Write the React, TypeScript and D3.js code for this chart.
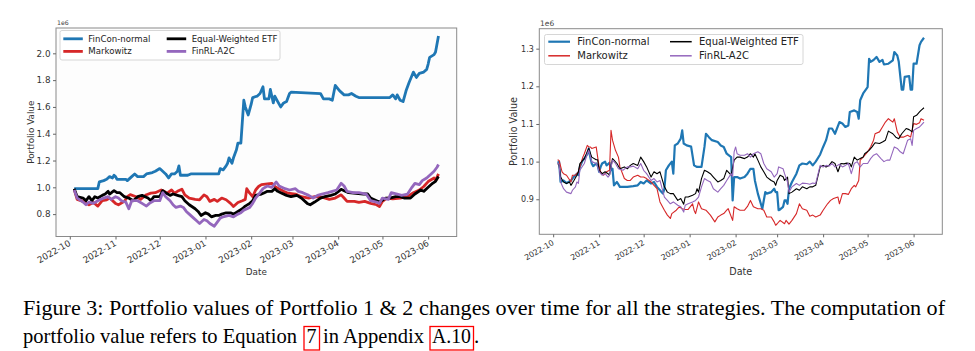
import React, { useRef, useEffect } from "react";
import * as d3 from "d3";

type Pt = [string, number];

// ---- Portfolio 1 (values in 1e6) ----
const p1FinCon: Pt[] = [
  ["10-04", 0.99], ["10-20", 0.99], ["10-21", 1.04], ["10-24", 1.05], ["10-26", 1.06], ["10-28", 1.08],
  ["10-30", 1.07], ["10-31", 1.09], ["11-01", 1.08], ["11-02", 1.06], ["11-04", 1.06], ["11-08", 1.06],
  ["11-09", 1.05], ["11-12", 1.08], ["11-14", 1.1], ["11-16", 1.08], ["11-20", 1.08], ["11-22", 1.1],
  ["11-26", 1.11], ["11-28", 1.12], ["12-01", 1.14], ["12-03", 1.12], ["12-05", 1.1], ["12-07", 1.07],
  ["12-09", 1.1], ["12-11", 1.1], ["12-13", 1.12], ["12-14", 1.16], ["12-15", 1.09], ["12-20", 1.09],
  ["12-22", 1.1], ["01-10", 1.1], ["01-11", 1.14], ["01-13", 1.13], ["01-15", 1.16], ["01-16", 1.18],
  ["01-17", 1.22], ["01-19", 1.18], ["01-20", 1.22], ["01-22", 1.28], ["01-23", 1.33], ["01-25", 1.33],
  ["01-27", 1.65], ["01-28", 1.6], ["01-30", 1.54], ["02-01", 1.62], ["02-02", 1.67], ["02-05", 1.68],
  ["02-07", 1.7], ["02-09", 1.75], ["02-10", 1.66], ["02-13", 1.66], ["02-14", 1.73], ["02-16", 1.63],
  ["02-17", 1.68], ["02-19", 1.64], ["02-21", 1.6], ["02-23", 1.63], ["02-25", 1.64], ["02-27", 1.7],
  ["02-28", 1.71], ["03-20", 1.7], ["03-22", 1.66], ["03-26", 1.66], ["03-28", 1.65], ["03-30", 1.76],
  ["04-02", 1.72], ["04-05", 1.69], ["04-08", 1.69], ["04-10", 1.7], ["04-13", 1.68], ["04-15", 1.67],
  ["05-06", 1.67], ["05-08", 1.69], ["05-10", 1.66], ["05-11", 1.69], ["05-13", 1.65], ["05-15", 1.64],
  ["05-17", 1.72], ["05-19", 1.78], ["05-22", 1.86], ["05-24", 1.82], ["05-26", 1.85], ["05-29", 1.86],
  ["05-31", 1.88], ["06-01", 1.92], ["06-02", 1.97], ["06-05", 1.99], ["06-06", 2.01], ["06-08", 2.13],
];

const p1Markowitz: Pt[] = [
  ["10-04", 0.985], ["10-06", 0.91], ["10-10", 0.895], ["10-14", 0.87], ["10-17", 0.887], ["10-20", 0.86],
  ["10-23", 0.9], ["10-26", 0.907], ["10-28", 0.92], ["11-01", 0.88], ["11-03", 0.87], ["11-07", 0.895],
  ["11-09", 0.93], ["11-11", 0.945], ["11-15", 0.93], ["11-18", 0.91], ["11-22", 0.945], ["11-25", 0.957],
  ["11-28", 0.96], ["12-02", 0.98], ["12-04", 0.97], ["12-06", 0.956], ["12-09", 0.98], ["12-11", 0.956],
  ["12-13", 0.97], ["12-16", 0.986], ["12-18", 0.944], ["12-21", 0.92], ["12-25", 0.91], ["12-28", 0.907],
  ["12-31", 0.944], ["01-02", 0.93], ["01-04", 0.895], ["01-07", 0.91], ["01-09", 0.895], ["01-12", 0.92],
  ["01-15", 0.907], ["01-18", 0.88], ["01-20", 0.857], ["01-23", 0.887], ["01-26", 0.9], ["01-28", 0.91],
  ["01-29", 0.99], ["01-31", 0.956], ["02-02", 0.93], ["02-04", 0.98], ["02-06", 1.006], ["02-08", 1.02],
  ["02-12", 1.026], ["02-15", 1.03], ["02-17", 1.006], ["02-19", 0.994], ["02-23", 0.97], ["02-26", 0.956],
  ["03-03", 0.95], ["03-07", 0.93], ["03-12", 0.92], ["03-16", 0.93], ["03-21", 0.927], ["03-26", 0.91],
  ["03-30", 0.92], ["04-03", 0.944], ["04-05", 0.92], ["04-07", 0.895], ["04-12", 0.895], ["04-15", 0.887],
  ["04-19", 0.895], ["04-23", 0.88], ["04-27", 0.87], ["04-29", 0.857], ["05-01", 0.895], ["05-04", 0.92],
  ["05-08", 0.914], ["05-13", 0.92], ["05-18", 0.93], ["05-22", 0.96], ["05-26", 0.98], ["05-29", 1.006],
  ["06-01", 1.043], ["06-05", 1.07], ["06-06", 1.05], ["06-08", 1.1],
];

const p1EqualETF: Pt[] = [
  ["10-04", 0.99], ["10-06", 0.93], ["10-10", 0.92], ["10-12", 0.9], ["10-14", 0.93], ["10-16", 0.9],
  ["10-18", 0.93], ["10-20", 0.92], ["10-23", 0.94], ["10-25", 0.95], ["10-27", 0.97], ["10-28", 0.95],
  ["10-31", 0.975], ["11-02", 0.96], ["11-04", 0.96], ["11-07", 0.93], ["11-10", 0.92], ["11-13", 0.9],
  ["11-16", 0.93], ["11-19", 0.94], ["11-23", 0.92], ["11-25", 0.9], ["11-27", 0.93], ["12-01", 0.93],
  ["12-03", 0.975], ["12-05", 0.96], ["12-08", 0.94], ["12-10", 0.95], ["12-13", 0.94], ["12-16", 0.93],
  ["12-18", 0.9], ["12-21", 0.87], ["12-25", 0.84], ["12-27", 0.82], ["12-29", 0.79], ["01-01", 0.81],
  ["01-03", 0.8], ["01-05", 0.78], ["01-08", 0.79], ["01-10", 0.79], ["01-12", 0.8], ["01-15", 0.81],
  ["01-18", 0.81], ["01-20", 0.8], ["01-23", 0.82], ["01-26", 0.84], ["01-28", 0.86], ["01-31", 0.88],
  ["02-02", 0.9], ["02-04", 0.94], ["02-08", 0.95], ["02-10", 0.96], ["02-12", 0.97], ["02-15", 0.97],
  ["02-17", 0.99], ["02-19", 0.97], ["02-21", 0.96], ["02-25", 0.94], ["02-28", 0.93], ["03-04", 0.94],
  ["03-07", 0.92], ["03-11", 0.88], ["03-13", 0.87], ["03-16", 0.89], ["03-20", 0.92], ["03-23", 0.93],
  ["03-27", 0.94], ["03-30", 0.95], ["04-03", 0.985], ["04-05", 0.975], ["04-08", 0.96], ["04-13", 0.955],
  ["04-18", 0.95], ["04-21", 0.95], ["04-23", 0.92], ["04-27", 0.9], ["04-29", 0.89], ["05-03", 0.92],
  ["05-06", 0.92], ["05-10", 0.93], ["05-13", 0.93], ["05-16", 0.92], ["05-20", 0.92], ["05-23", 0.95],
  ["05-27", 0.98], ["05-29", 0.97], ["06-01", 1.0], ["06-04", 1.03], ["06-06", 1.045], ["06-08", 1.08],
];

const p1A2C: Pt[] = [
  ["10-04", 0.98], ["10-06", 0.92], ["10-10", 0.89], ["10-12", 0.87], ["10-14", 0.89], ["10-17", 0.88],
  ["10-20", 0.9], ["10-24", 0.92], ["10-27", 0.93], ["10-29", 0.91], ["11-01", 0.93], ["11-03", 0.92],
  ["11-05", 0.9], ["11-08", 0.89], ["11-10", 0.84], ["11-12", 0.9], ["11-16", 0.9], ["11-19", 0.88],
  ["11-22", 0.86], ["11-24", 0.88], ["11-27", 0.9], ["12-01", 0.9], ["12-03", 0.96], ["12-05", 0.93],
  ["12-08", 0.9], ["12-10", 0.87], ["12-12", 0.85], ["12-15", 0.86], ["12-17", 0.85], ["12-19", 0.82],
  ["12-21", 0.8], ["12-24", 0.77], ["12-26", 0.75], ["12-28", 0.73], ["12-31", 0.76], ["01-02", 0.75],
  ["01-04", 0.73], ["01-07", 0.71], ["01-09", 0.74], ["01-11", 0.77], ["01-13", 0.78], ["01-17", 0.79],
  ["01-20", 0.78], ["01-23", 0.8], ["01-25", 0.81], ["01-27", 0.83], ["01-31", 0.85], ["02-02", 0.88],
  ["02-04", 0.92], ["02-07", 0.96], ["02-09", 0.99], ["02-12", 1.01], ["02-15", 1.0], ["02-18", 1.04],
  ["02-20", 1.01], ["02-24", 0.99], ["02-27", 0.98], ["03-03", 0.99], ["03-05", 0.97], ["03-08", 0.96],
  ["03-12", 0.94], ["03-15", 0.92], ["03-18", 0.94], ["03-21", 0.95], ["03-25", 0.96], ["03-28", 0.97],
  ["03-31", 0.98], ["04-03", 1.03], ["04-05", 1.01], ["04-07", 0.97], ["04-11", 0.96], ["04-15", 0.96],
  ["04-20", 0.95], ["04-23", 0.9], ["04-27", 0.89], ["04-29", 0.88], ["05-01", 0.92], ["05-05", 0.91],
  ["05-07", 0.96], ["05-11", 0.95], ["05-14", 0.94], ["05-18", 0.95], ["05-21", 1.0], ["05-23", 1.03],
  ["05-26", 1.02], ["05-28", 1.05], ["05-31", 1.07], ["06-03", 1.1], ["06-05", 1.12], ["06-07", 1.15],
  ["06-08", 1.17],
];

// ---- Portfolio 2 (values in 1e6) ----
const p2FinCon: Pt[] = [
  ["10-04", 0.997], ["10-05", 1.0], ["10-06", 0.946], ["10-08", 0.95], ["10-10", 0.943], ["10-13", 0.95],
  ["10-15", 0.96], ["10-17", 0.968], ["10-18", 0.964], ["10-19", 0.986], ["10-21", 1.004], ["10-22", 1.008],
  ["10-24", 1.02], ["10-25", 1.035], ["10-26", 1.012], ["10-27", 0.995], ["10-28", 0.988], ["10-30", 0.995],
  ["10-31", 0.99], ["11-01", 0.973], ["11-02", 0.986], ["11-03", 0.995], ["11-05", 1.0], ["11-06", 0.99],
  ["11-08", 0.997], ["11-09", 0.977], ["11-10", 0.981], ["11-11", 0.937], ["11-13", 0.946], ["11-15", 0.933],
  ["11-20", 0.933], ["11-24", 0.935], ["11-27", 0.937], ["11-29", 0.946], ["12-01", 0.942], ["12-03", 0.95],
  ["12-06", 0.942], ["12-08", 0.946], ["12-10", 0.933], ["12-12", 0.924], ["12-14", 0.915], ["12-15", 0.928],
  ["12-16", 0.977], ["12-18", 0.99], ["12-20", 1.0], ["12-21", 0.968], ["12-22", 1.043], ["12-24", 1.048],
  ["12-26", 1.061], ["12-27", 1.083], ["12-28", 1.048], ["12-30", 1.043], ["01-02", 1.04], ["01-04", 0.99],
  ["01-06", 0.986], ["01-09", 0.986], ["01-11", 1.039], ["01-12", 1.074], ["01-14", 1.065], ["01-16", 1.057],
  ["01-20", 1.052], ["01-22", 1.043], ["01-24", 1.039], ["01-26", 1.021], ["01-29", 1.012], ["01-30", 0.897],
  ["01-31", 0.959], ["02-02", 0.959], ["02-04", 0.955], ["02-07", 0.959], ["02-09", 0.968], ["02-11", 0.981],
  ["02-13", 0.981], ["02-14", 0.95], ["02-16", 0.915], ["02-18", 0.888], ["02-19", 0.875], ["02-21", 0.919],
  ["02-22", 0.915], ["02-25", 0.919], ["02-27", 0.928], ["02-28", 0.919], ["03-01", 0.919], ["03-02", 0.871],
  ["03-03", 0.873], ["03-05", 0.88], ["03-06", 0.897], ["03-07", 0.897], ["03-08", 0.888], ["03-09", 0.928],
  ["03-11", 0.946], ["03-14", 0.968], ["03-16", 0.99], ["03-18", 0.995], ["03-21", 0.993], ["03-23", 1.0],
  ["03-25", 0.99], ["03-27", 1.0], ["03-30", 1.019], ["04-01", 1.039], ["04-03", 1.057], ["04-05", 1.088],
  ["04-07", 1.088], ["04-09", 1.074], ["04-12", 1.105], ["04-14", 1.101], ["04-16", 1.092], ["04-18", 1.096],
  ["04-19", 1.132], ["04-22", 1.136], ["04-24", 1.132], ["04-25", 1.114], ["04-26", 1.163], ["04-28", 1.181],
  ["05-01", 1.198], ["05-02", 1.273], ["05-03", 1.265], ["05-05", 1.27], ["05-07", 1.278], ["05-09", 1.265],
  ["05-11", 1.27], ["05-12", 1.258], ["05-15", 1.26], ["05-18", 1.269], ["05-19", 1.291], ["05-21", 1.282],
  ["05-22", 1.265], ["05-24", 1.191], ["05-25", 1.191], ["05-26", 1.225], ["05-29", 1.227], ["05-30", 1.191],
  ["05-31", 1.191], ["06-01", 1.26], ["06-03", 1.26], ["06-05", 1.309], ["06-06", 1.318], ["06-08", 1.329],
];

const p2Markowitz: Pt[] = [
  ["10-04", 1.005], ["10-05", 1.003], ["10-07", 0.973], ["10-08", 0.968], ["10-10", 0.964], ["10-13", 0.946],
  ["10-14", 0.964], ["10-16", 0.964], ["10-18", 0.973], ["10-19", 0.986], ["10-21", 1.012], ["10-22", 1.021],
  ["10-24", 1.043], ["10-25", 1.039], ["10-26", 1.039], ["10-27", 1.035], ["10-30", 1.039], ["10-31", 1.012],
  ["11-01", 0.986], ["11-02", 0.973], ["11-04", 0.964], ["11-06", 0.973], ["11-08", 0.977], ["11-09", 1.083],
  ["11-10", 1.057], ["11-12", 1.03], ["11-14", 1.012], ["11-15", 0.986], ["11-18", 0.955], ["11-20", 0.95],
  ["11-22", 0.95], ["11-24", 0.959], ["11-27", 0.964], ["11-29", 0.959], ["12-01", 0.959], ["12-03", 0.955],
  ["12-06", 0.946], ["12-08", 0.937], ["12-10", 0.928], ["12-12", 0.893], ["12-15", 0.871], ["12-17", 0.858],
  ["12-19", 0.849], ["12-20", 0.862], ["12-23", 0.871], ["12-25", 0.88], ["12-27", 0.875], ["12-29", 0.873],
  ["12-31", 0.873], ["01-03", 0.888], ["01-04", 0.871], ["01-05", 0.862], ["01-07", 0.893], ["01-09", 0.875],
  ["01-12", 0.871], ["01-15", 0.858], ["01-18", 0.84], ["01-20", 0.853], ["01-22", 0.858], ["01-24", 0.862],
  ["01-26", 0.871], ["01-27", 0.875], ["01-30", 0.844], ["01-31", 0.88], ["02-02", 0.875], ["02-04", 0.871],
  ["02-07", 0.871], ["02-09", 0.881], ["02-11", 0.897], ["02-13", 0.88], ["02-16", 0.875], ["02-18", 0.875],
  ["02-20", 0.871], ["02-22", 0.853], ["02-25", 0.853], ["02-27", 0.84], ["02-28", 0.831], ["03-01", 0.835],
  ["03-03", 0.844], ["03-06", 0.835], ["03-07", 0.844], ["03-09", 0.834], ["03-11", 0.844], ["03-14", 0.862],
  ["03-16", 0.888], ["03-18", 0.875], ["03-21", 0.871], ["03-23", 0.855], ["03-25", 0.858], ["03-27", 0.853],
  ["03-30", 0.858], ["04-01", 0.871], ["04-04", 0.888], ["04-06", 0.897], ["04-08", 0.902], ["04-11", 0.906],
  ["04-12", 0.888], ["04-14", 0.915], ["04-16", 0.915], ["04-18", 0.913], ["04-20", 0.928], ["04-22", 0.937],
  ["04-23", 0.933], ["04-25", 0.95], ["04-26", 1.004], ["04-28", 1.012], ["05-01", 1.026], ["05-03", 1.039],
  ["05-05", 1.057], ["05-06", 1.074], ["05-09", 1.079], ["05-11", 1.092], ["05-13", 1.105], ["05-15", 1.114],
  ["05-18", 1.105], ["05-19", 1.114], ["05-21", 1.079], ["05-23", 1.065], ["05-25", 1.065], ["05-28", 1.07],
  ["05-30", 1.065], ["06-01", 1.101], ["06-03", 1.099], ["06-05", 1.103], ["06-06", 1.114], ["06-08", 1.11],
];

const p2EqualETF: Pt[] = [
  ["10-04", 0.995], ["10-05", 0.99], ["10-06", 0.959], ["10-08", 0.946], ["10-10", 0.942], ["10-12", 0.946],
  ["10-13", 0.937], ["10-15", 0.95], ["10-17", 0.964], ["10-18", 0.973], ["10-19", 0.995], ["10-22", 1.008],
  ["10-24", 1.026], ["10-25", 1.035], ["10-27", 1.012], ["10-30", 1.005], ["10-31", 1.005], ["11-01", 0.977],
  ["11-03", 0.968], ["11-05", 0.973], ["11-07", 0.968], ["11-08", 0.964], ["11-10", 1.008], ["11-11", 1.004],
  ["11-13", 0.995], ["11-15", 0.981], ["11-18", 0.986], ["11-20", 0.981], ["11-22", 0.99], ["11-24", 0.995],
  ["11-27", 0.99], ["11-29", 1.012], ["12-01", 1.0], ["12-03", 0.986], ["12-06", 0.959], ["12-08", 0.973],
  ["12-10", 0.968], ["12-12", 0.973], ["12-15", 0.933], ["12-17", 0.919], ["12-19", 0.915], ["12-21", 0.915],
  ["12-24", 0.897], ["12-26", 0.902], ["12-28", 0.887], ["12-29", 0.906], ["12-31", 0.906], ["01-03", 0.911],
  ["01-05", 0.915], ["01-06", 0.928], ["01-07", 0.919], ["01-09", 0.955], ["01-11", 0.977], ["01-13", 0.973],
  ["01-15", 0.968], ["01-17", 0.959], ["01-20", 0.946], ["01-22", 0.95], ["01-24", 0.955], ["01-26", 0.977],
  ["01-29", 0.964], ["01-31", 1.004], ["02-02", 1.012], ["02-04", 1.012], ["02-07", 1.008], ["02-09", 1.012],
  ["02-11", 1.021], ["02-13", 1.012], ["02-14", 1.021], ["02-16", 1.004], ["02-18", 0.986], ["02-20", 0.973],
  ["02-22", 0.959], ["02-25", 0.95], ["02-27", 0.946], ["02-28", 0.937], ["03-01", 0.95], ["03-03", 0.964],
  ["03-05", 0.96], ["03-06", 0.95], ["03-08", 0.959], ["03-09", 0.915], ["03-11", 0.919], ["03-14", 0.928],
  ["03-16", 0.924], ["03-18", 0.933], ["03-21", 0.928], ["03-23", 0.933], ["03-25", 0.933], ["03-27", 0.937],
  ["03-30", 0.986], ["04-01", 0.99], ["04-03", 0.986], ["04-05", 0.99], ["04-07", 1.0], ["04-09", 0.995],
  ["04-11", 0.973], ["04-13", 0.995], ["04-15", 0.994], ["04-17", 0.996], ["04-19", 0.995], ["04-20", 0.986],
  ["04-22", 1.012], ["04-24", 1.004], ["04-26", 1.008], ["04-28", 1.012], ["04-29", 1.021], ["05-02", 1.03],
  ["05-04", 1.039], ["05-06", 1.05], ["05-09", 1.048], ["05-11", 1.052], ["05-13", 1.057], ["05-15", 1.081],
  ["05-18", 1.074], ["05-20", 1.065], ["05-22", 1.061], ["05-24", 1.074], ["05-27", 1.088], ["05-29", 1.085],
  ["05-31", 1.079], ["06-01", 1.119], ["06-03", 1.123], ["06-05", 1.132], ["06-06", 1.136], ["06-08", 1.143],
];

const p2A2C: Pt[] = [
  ["10-04", 0.997], ["10-05", 0.992], ["10-06", 0.946], ["10-08", 0.928], ["10-10", 0.919], ["10-13", 0.915],
  ["10-14", 0.924], ["10-16", 0.933], ["10-17", 0.946], ["10-18", 0.942], ["10-19", 0.977], ["10-22", 0.995],
  ["10-24", 1.021], ["10-25", 1.03], ["10-27", 1.0], ["10-30", 0.995], ["10-31", 0.986], ["11-01", 0.973],
  ["11-03", 0.964], ["11-05", 0.968], ["11-07", 0.959], ["11-08", 0.964], ["11-10", 1.004], ["11-12", 0.995],
  ["11-14", 0.981], ["11-17", 0.977], ["11-20", 0.986], ["11-22", 0.986], ["11-24", 0.988], ["11-27", 0.981],
  ["11-29", 0.995], ["12-01", 0.977], ["12-03", 0.968], ["12-06", 0.95], ["12-08", 0.955], ["12-10", 0.946],
  ["12-12", 0.95], ["12-15", 0.906], ["12-17", 0.897], ["12-19", 0.888], ["12-21", 0.893], ["12-24", 0.884],
  ["12-26", 0.88], ["12-28", 0.866], ["12-29", 0.884], ["12-31", 0.888], ["01-03", 0.893], ["01-05", 0.897],
  ["01-07", 0.906], ["01-09", 0.933], ["01-11", 0.955], ["01-13", 0.95], ["01-15", 0.946], ["01-17", 0.928],
  ["01-20", 0.919], ["01-22", 0.928], ["01-24", 0.937], ["01-26", 0.95], ["01-29", 0.968], ["01-30", 0.96],
  ["01-31", 1.026], ["02-01", 1.039], ["02-02", 1.021], ["02-04", 1.017], ["02-07", 1.017], ["02-09", 1.021],
  ["02-11", 1.012], ["02-13", 1.021], ["02-16", 1.026], ["02-18", 1.021], ["02-20", 0.995], ["02-22", 0.981],
  ["02-25", 0.973], ["02-27", 0.959], ["03-01", 0.968], ["03-02", 0.986], ["03-05", 0.981], ["03-06", 0.968],
  ["03-08", 0.946], ["03-09", 0.919], ["03-11", 0.933], ["03-14", 0.942], ["03-16", 0.937], ["03-18", 0.943],
  ["03-21", 0.942], ["03-23", 0.94], ["03-25", 0.943], ["03-27", 0.942], ["03-30", 0.99], ["04-01", 0.986],
  ["04-03", 0.99], ["04-05", 0.988], ["04-07", 0.995], ["04-09", 0.986], ["04-12", 0.993], ["04-14", 0.986],
  ["04-16", 0.99], ["04-18", 0.995], ["04-20", 0.968], ["04-22", 0.995], ["04-24", 1.0], ["04-26", 0.986],
  ["04-28", 0.995], ["05-01", 0.995], ["05-03", 1.008], ["05-05", 1.017], ["05-07", 1.021], ["05-10", 1.008],
  ["05-12", 1.0], ["05-14", 1.004], ["05-16", 1.004], ["05-19", 1.039], ["05-21", 1.035], ["05-23", 1.026],
  ["05-25", 1.021], ["05-28", 1.057], ["05-30", 1.061], ["05-31", 1.043], ["06-01", 1.083], ["06-03", 1.088],
  ["06-05", 1.092], ["06-06", 1.096], ["06-08", 1.105],
];

const seriesNames = ["FinCon-normal", "Markowitz", "Equal-Weighted ETF", "FinRL-A2C"];
const seriesColors = ["#1f77b4", "#d62728", "#000000", "#9467bd"];
const monthTicks = ["2022-10", "2022-11", "2022-12", "2023-01", "2023-02", "2023-03", "2023-04", "2023-05", "2023-06"];
const p1YTicks = [0.8, 1.0, 1.2, 1.4, 1.6, 1.8, 2.0];
const p2YTicks = [0.9, 1.0, 1.1, 1.2, 1.3];

const parseDay = (s: string) => {
  const [m, d] = s.split("-").map(Number);
  return new Date(m >= 9 ? 2022 : 2023, m - 1, d);
};
const parseMonth = d3.timeParse("%Y-%m");
const FONT = "DejaVu Sans, sans-serif";

const panels = [
  {
    series: [p1FinCon, p1Markowitz, p1EqualETF, p1A2C],
    box: [56, 28, 456.7, 236.5],
    yDomain: [0.633, 2.189],
    yTicks: p1YTicks,
    lw: [2.8, 2.8, 2.8, 2.8],
    face: "#fdfdfd",
    tickFont: 8.8,
    xTickFont: 8.8,
    labelFont: 8.8,
    xtDy: 8.5,
    legend: { x: 60, y: 30.5, w: 220, h: 29.5, rows: [38.8, 51.4], cols: [63.3, 166.7], hLen: 19.5, tGap: 25, font: 8.6, lw: 2.8 },
    offset: { x: 57, y: 24.5, font: 6.2 },
    yLabelX: 31,
    xLabelY: 275,
  },
  {
    series: [p2FinCon, p2Markowitz, p2EqualETF, p2A2C],
    box: [539.3, 28.7, 942.3, 234.3],
    yDomain: [0.807, 1.353],
    yTicks: p2YTicks,
    lw: [2.2, 1.1, 1.1, 1.1],
    face: "#ffffff",
    tickFont: 8,
    xTickFont: 7.8,
    labelFont: 9.6,
    xtDy: 10,
    legend: { x: 544.5, y: 34.5, w: 258.5, h: 30, rows: [41.7, 55.8], cols: [548.3, 670], hLen: 21.7, tGap: 29, font: 10, lw: 1.5 },
    offset: { x: 540, y: 26, font: 7.5 },
    yLabelX: 513,
    xLabelY: 275,
  },
];

function Panel({ cfg }: { cfg: any }) {
  const ref = useRef<SVGGElement>(null);

  useEffect(() => {
    const g = d3.select(ref.current);
    g.selectAll("*").remove();
    const [x0, y0, x1, y1] = cfg.box;

    const dates = cfg.series.flatMap((s: Pt[]) => s.map((p) => parseDay(p[0])));
    const [dMin, dMax] = d3.extent(dates) as [Date, Date];
    const pad = (+dMax - +dMin) * 0.05;
    const x = d3.scaleTime().domain([new Date(+dMin - pad), new Date(+dMax + pad)]).range([x0, x1]);
    const y = d3.scaleLinear().domain(cfg.yDomain).range([y1, y0]);

    g.append("rect")
      .attr("x", x0).attr("y", y0)
      .attr("width", x1 - x0).attr("height", y1 - y0)
      .attr("fill", cfg.face);

    const line = d3.line<Pt>().x((p) => x(parseDay(p[0]))).y((p) => y(p[1]));
    cfg.series.forEach((s: Pt[], i: number) => {
      g.append("path")
        .datum(s)
        .attr("d", line)
        .attr("fill", "none")
        .attr("stroke", seriesColors[i])
        .attr("stroke-width", cfg.lw[i])
        .attr("stroke-linejoin", "round");
    });

    // frame
    g.append("rect")
      .attr("x", x0).attr("y", y0)
      .attr("width", x1 - x0).attr("height", y1 - y0)
      .attr("fill", "none")
      .attr("stroke", "#8a8a8a")
      .attr("stroke-width", 1);

    // x axis
    const gx = g.append("g")
      .attr("transform", `translate(0,${y1})`)
      .call(
        d3.axisBottom(x)
          .tickValues(monthTicks.map((m) => parseMonth(m) as Date))
          .tickFormat(d3.timeFormat("%Y-%m") as any)
          .tickSize(3)
      );
    gx.select(".domain").remove();
    gx.selectAll(".tick line").attr("stroke", "#666");
    gx.selectAll(".tick text")
      .attr("y", 0)
      .attr("dy", null)
      .attr("transform", `translate(1,${cfg.xtDy}) rotate(-30)`)
      .attr("text-anchor", "end")
      .attr("fill", "#333")
      .attr("font-size", cfg.xTickFont)
      .attr("font-family", FONT);

    // y axis
    const gy = g.append("g")
      .attr("transform", `translate(${x0},0)`)
      .call(d3.axisLeft(y).tickValues(cfg.yTicks).tickFormat(d3.format(".1f")).tickSize(3).tickPadding(2.5));
    gy.select(".domain").remove();
    gy.selectAll(".tick line").attr("stroke", "#666");
    gy.selectAll(".tick text")
      .attr("fill", "#333")
      .attr("font-size", cfg.tickFont)
      .attr("font-family", FONT);

    // offset text
    g.append("text")
      .attr("x", cfg.offset.x).attr("y", cfg.offset.y)
      .attr("font-size", cfg.offset.font)
      .attr("font-family", FONT)
      .attr("fill", "#444")
      .text("1e6");

    // axis labels
    g.append("text")
      .attr("x", (x0 + x1) / 2).attr("y", cfg.xLabelY)
      .attr("text-anchor", "middle")
      .attr("font-size", cfg.labelFont)
      .attr("font-family", FONT)
      .attr("fill", "#333")
      .text("Date");
    g.append("text")
      .attr("transform", `translate(${cfg.yLabelX},${(y0 + y1) / 2}) rotate(-90)`)
      .attr("text-anchor", "middle")
      .attr("dominant-baseline", "central")
      .attr("font-size", cfg.labelFont)
      .attr("font-family", FONT)
      .attr("fill", "#333")
      .text("Portfolio Value");

    // legend
    const L = cfg.legend;
    g.append("rect")
      .attr("x", L.x).attr("y", L.y)
      .attr("width", L.w).attr("height", L.h)
      .attr("rx", 2)
      .attr("fill", "#fff").attr("fill-opacity", 0.8)
      .attr("stroke", "#d6d6d6").attr("stroke-width", 1);
    seriesNames.forEach((name, i) => {
      const cx = L.cols[Math.floor(i / 2)];
      const cy = L.rows[i % 2];
      g.append("line")
        .attr("x1", cx).attr("x2", cx + L.hLen)
        .attr("y1", cy).attr("y2", cy)
        .attr("stroke", seriesColors[i])
        .attr("stroke-width", Math.max(L.lw, cfg.lw[i]));
      g.append("text")
        .attr("x", cx + L.tGap).attr("y", cy)
        .attr("dominant-baseline", "central")
        .attr("font-size", L.font)
        .attr("font-family", FONT)
        .attr("fill", "#222")
        .text(name);
    });
  }, [cfg]);

  return <g ref={ref} />;
}

export default function App() {
  const serif = "Liberation Serif, Times New Roman, serif";
  return (
    <svg
      width={975}
      height={351}
      style={{ position: "absolute", left: 0, top: 0, background: "#fff" }}
    >
      <rect width={975} height={351} fill="#fff" />
      {panels.map((p, i) => (
        <Panel key={i} cfg={p} />
      ))}
      <g fontFamily={serif} fill="#000">
        <text x={23} y={315} fontSize={22} textLength={922} lengthAdjust="spacingAndGlyphs">
          Figure 3:  Portfolio values of Portfolio 1 &amp; 2 changes over time for all the strategies.  The computation of
        </text>
        <text y={343} fontSize={21}>
          <tspan x={23} textLength={274} lengthAdjust="spacingAndGlyphs">portfolio value refers to Equation</tspan>
          <tspan x={306.5} textLength={10} lengthAdjust="spacingAndGlyphs">7</tspan>
          <tspan x={323} textLength={101} lengthAdjust="spacingAndGlyphs">in Appendix</tspan>
          <tspan x={432} textLength={39} lengthAdjust="spacingAndGlyphs">A.10</tspan>
          <tspan x={474}>.</tspan>
        </text>
      </g>
      <rect x={304} y={326.5} width={15.5} height={23.5} fill="none" stroke="#ff0000" strokeWidth={1.3} />
      <rect x={430} y={326.5} width={43.5} height={23.5} fill="none" stroke="#ff0000" strokeWidth={1.3} />
    </svg>
  );
}
